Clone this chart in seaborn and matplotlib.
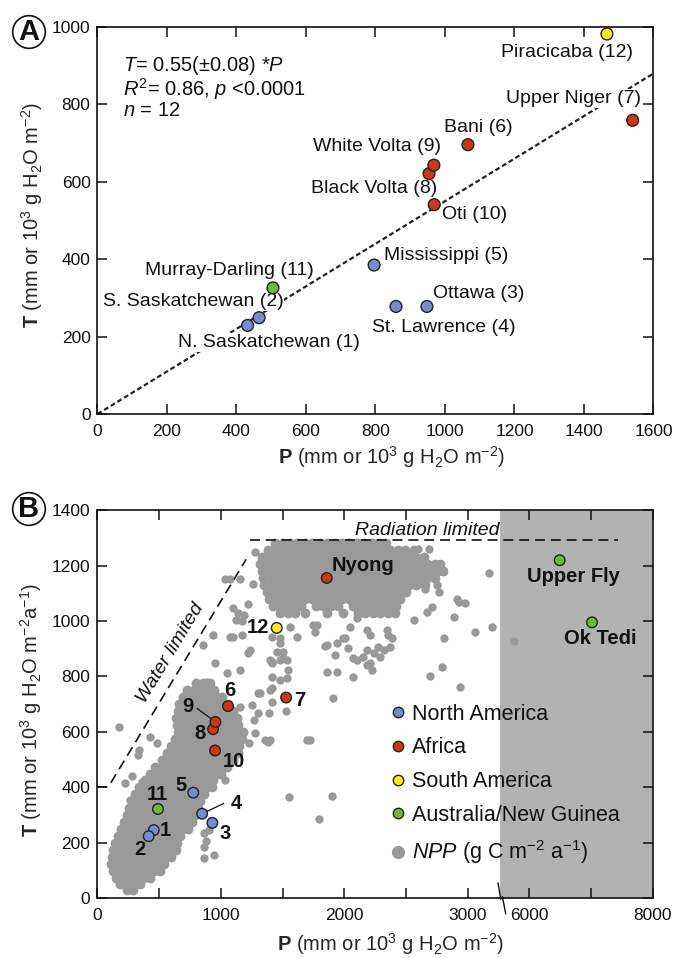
import numpy as np
import pandas as pd
import matplotlib
matplotlib.use("Agg")
import matplotlib.pyplot as plt
from matplotlib.lines import Line2D
import seaborn as sns

# ---------------- panel A : river basins ----------------
rivers_a = ["N. Saskatchewan (1)", "S. Saskatchewan (2)", "Ottawa (3)", "St. Lawrence (4)",
            "Mississippi (5)", "Bani (6)", "Upper Niger (7)", "Black Volta (8)",
            "White Volta (9)", "Oti (10)", "Murray-Darling (11)", "Piracicaba (12)"]
region_a = ["North America"] * 5 + ["Africa"] * 5 + ["Australia/New Guinea", "South America"]
precip_a = [432, 465, 948, 859, 796, 1066, 1540, 954, 968, 969, 505, 1466]
transp_a = [229, 249, 278, 278, 385, 696, 759, 621, 643, 541, 326, 982]
label_P_a = [231, 15, 966, 790, 825, 998, 1565, 978, 988, 991, 137, 1541]
label_T_a = [184, 292, 311, 224, 410, 741, 815, 583, 692, 515, 372, 934]
label_ha_a = ["left", "left", "left", "left", "left", "left", "right", "right",
              "right", "left", "left", "right"]
fit_slope = 0.55
fit_P = np.array([0, 1600])

# ---------------- panel B : rivers + NPP ----------------
rivers_b = ["1", "2", "3", "4", "5", "6", "7", "8", "9", "10", "11", "12",
            "Nyong", "Upper Fly", "Ok Tedi"]
region_b = ["North America"] * 5 + ["Africa"] * 5 + ["Australia/New Guinea", "South America",
            "Africa", "Australia/New Guinea", "Australia/New Guinea"]
precip_b = [457, 416, 931, 848, 777, 1058, 1528, 937, 956, 953, 491, 1452, 1857, 6490, 7014]
transp_b = [246, 224, 272, 305, 381, 693, 724, 610, 636, 533, 322, 975, 1155, 1219, 995]
label_P_b = [551, 348, 1031, 1125, 678, 1074, 1641, 829, 732, 1104, 483, 1296, 2154, 6706, 7148]
label_T_b = [243, 177, 234, 342, 406, 748, 712, 595, 690, 492, 375, 977, 1201, 1161, 937]
leader4_P, leader4_T = [848, 1023], [305, 342]
leader9_P, leader9_T = [807, 956], [685, 636]

water_P, water_T = [0, 90, 1204], [402, 402, 1222]
radiation_P, radiation_T = [1235, 7440], [1291, 1291]

# dense NPP cloud, lower band: one row of P values per T level
npp_low_T = [30, 50, 75, 100, 125, 150, 175, 200, 225, 250, 275, 300, 325, 350, 375, 400,
             425, 450, 475, 500, 525, 550, 575, 600, 625, 650, 675, 700, 725, 750, 775]
npp_low_P = [
    [240, 290],
    [180, 235, 290, 345],
    [150, 205, 260, 315, 370, 425],
    [125, 180, 235, 290, 345, 400, 455, 505],
    [110, 150, 205, 260, 315, 370, 425, 480, 540],
    [120, 175, 230, 285, 340, 395, 450, 505, 560, 600],
    [130, 150, 205, 260, 315, 370, 425, 480, 535, 590, 635],
    [145, 200, 255, 310, 365, 420, 475, 530, 585, 645],
    [165, 225, 280, 335, 390, 445, 500, 555, 610, 670],
    [190, 245, 300, 355, 410, 465, 520, 575, 630, 690, 735],
    [215, 270, 325, 380, 435, 490, 545, 600, 655, 710, 765],
    [240, 295, 350, 405, 460, 515, 570, 625, 680, 735, 790],
    [260, 320, 375, 430, 485, 540, 595, 650, 705, 760, 815],
    [285, 340, 395, 450, 505, 560, 615, 670, 725, 780, 835],
    [305, 365, 420, 475, 530, 585, 640, 695, 750, 805, 860],
    [340, 395, 450, 505, 560, 615, 670, 725, 780, 835, 890, 930],
    [385, 440, 495, 550, 605, 660, 715, 770, 825, 880, 935],
    [425, 475, 530, 585, 640, 695, 750, 805, 860, 915, 970, 1000],
    [470, 525, 580, 635, 690, 745, 800, 855, 910, 965, 1020, 1050],
    [520, 570, 625, 680, 735, 790, 845, 900, 955, 1010, 1065, 1095],
    [565, 615, 670, 725, 780, 835, 890, 945, 1000, 1055, 1110, 1140],
    [600, 655, 710, 765, 820, 875, 930, 985, 1040, 1095, 1150],
    [630, 685, 740, 795, 850, 905, 960, 1015, 1070, 1125, 1175],
    [650, 705, 760, 815, 870, 925, 980, 1035, 1090, 1145, 1180],
    [645, 700, 755, 810, 865, 920, 975, 1030, 1085, 1140],
    [640, 690, 745, 800, 855, 910, 965, 1020, 1075, 1130],
    [650, 705, 760, 815, 870, 925, 980, 1035, 1100],
    [665, 720, 775, 830, 885, 940, 1000, 1060],
    [690, 745, 800, 855, 910, 965, 1010],
    [730, 785, 840, 895, 945],
    [800, 855, 910],
]

# dense NPP cloud, upper (humid) part
npp_high_T = [1280, 1255, 1230, 1205, 1180, 1155, 1130, 1105, 1080, 1055, 1030]
npp_high_P = [
    [1440, 1500, 1560, 1620, 1680, 1740, 1800, 1860, 1920, 1980, 2040, 2100, 2160, 2220, 2280, 2340],
    [1380, 1410, 1470, 1530, 1590, 1650, 1710, 1770, 1830, 1890, 1950, 2010, 2070, 2130, 2190,
     2250, 2310, 2370, 2430, 2490, 2560],
    [1330, 1380, 1440, 1500, 1560, 1620, 1680, 1740, 1800, 1860, 1920, 1980, 2040, 2100, 2160,
     2220, 2280, 2340, 2400, 2460, 2520, 2580, 2640],
    [1320, 1350, 1410, 1470, 1530, 1590, 1650, 1710, 1770, 1830, 1890, 1950, 2010, 2070, 2130,
     2190, 2250, 2310, 2370, 2430, 2490, 2550, 2610, 2670, 2730, 2770],
    [1330, 1380, 1440, 1500, 1560, 1620, 1680, 1740, 1800, 1860, 1920, 1980, 2040, 2100, 2160,
     2220, 2280, 2340, 2400, 2460, 2520, 2580, 2640, 2700, 2760, 2800],
    [1340, 1410, 1470, 1530, 1590, 1650, 1710, 1770, 1830, 1890, 1950, 2010, 2070, 2130, 2190,
     2250, 2310, 2370, 2430, 2490, 2550, 2610, 2670, 2730],
    [1350, 1380, 1440, 1500, 1560, 1620, 1680, 1740, 1800, 1860, 1920, 1980, 2040, 2100, 2160,
     2220, 2280, 2340, 2400, 2460, 2520, 2580, 2650],
    [1370, 1410, 1470, 1530, 1590, 1650, 1710, 1770, 1830, 1890, 1950, 2010, 2070, 2130, 2190,
     2250, 2310, 2370, 2430, 2500],
    [1390, 1440, 1500, 1560, 1620, 1680, 1740, 1800, 1860, 1920, 1980, 2040, 2100, 2160, 2220,
     2280, 2340, 2400, 2450],
    [1420, 1470, 1530, 1590, 1650, 1770, 1830, 1890, 1950, 2070, 2130, 2190, 2250, 2310, 2370, 2420],
    [1480, 1540, 1600, 1680, 1860, 1990, 2110, 2170, 2230, 2290, 2350, 2410],
]

# isolated NPP points (P, T)
npp_scatter = [
    (173, 616), (483, 559), (335, 534), (327, 516), (578, 496), (470, 468), (470, 448),
    (224, 417), (362, 420), (267, 354), (427, 580), (278, 441), (1401, 570), (1226, 559),
    (1036, 426), (1550, 366), (861, 234), (861, 186), (942, 156), (861, 144), (905, 245),
    (880, 205), (1388, 667), (1158, 690), (1266, 643), (1279, 595), (1898, 369), (1797, 286),
    (1528, 675), (1317, 739), (1412, 757), (1479, 787), (1412, 799), (1695, 570), (1722, 570),
    (1358, 570), (1250, 697), (953, 847), (886, 781), (1155, 823), (1857, 817), (1938, 817),
    (2073, 799), (2181, 841), (2235, 883), (1925, 877), (1412, 847), (1479, 859), (1547, 823),
    (939, 949), (1101, 943), (1169, 949), (1236, 895), (1223, 883), (1048, 811), (858, 913),
    (1304, 741), (1398, 751), (1538, 793), (1398, 859), (1533, 861), (1452, 889), (1479, 919),
    (1614, 943), (1776, 985), (1938, 919), (1857, 913), (1911, 724), (2073, 865), (1385, 564),
    (1277, 1247), (1034, 1150), (1075, 1153), (1155, 1153), (1263, 1135), (1223, 1063),
    (1100, 1045), (1140, 1030), (1190, 1020), (1120, 1005), (1170, 1000), (1075, 943),
    (1412, 943), (1479, 937), (1506, 889), (1506, 865), (1412, 853), (1560, 979), (1763, 961),
    (1844, 909), (2006, 937), (2032, 901), (2154, 871), (2370, 907), (2384, 937), (2316, 895),
    (1304, 667), (1412, 709), (3166, 1173), (2653, 1114), (2748, 1129), (2761, 1105),
    (2910, 1081), (2923, 1069), (2977, 1065), (2559, 1005), (2667, 1033), (2708, 1049),
    (2883, 1013), (3058, 961), (3193, 977), (2802, 937), (2343, 967), (2356, 949), (2275, 907),
    (2289, 871), (2208, 847), (2222, 823), (2100, 859), (2181, 897), (1992, 937), (2181, 967),
    (2208, 949), (2046, 979), (2100, 1009), (2141, 1039), (2694, 801), (2789, 833), (2937, 763),
    (2599, 1261), (2680, 1261), (1749, 985), (5744, 928),
]

region_colors = {"North America": "#788ccd", "Africa": "#cd3719",
                 "South America": "#ffeb1e", "Australia/New Guinea": "#78b43c"}
npp_color = "#999999"
edge = "#222222"
ink = "#111111"

# broken P axis of panel B (3260..5528 is cut out, right part is compressed 2x)
P_CUT_LO, P_CUT_HI = 3260, 5528


def fwd(p):
    p = np.asarray(p, dtype=float)
    return np.where(p <= P_CUT_LO, p, P_CUT_LO + (np.maximum(p, P_CUT_HI) - P_CUT_HI) / 2.0)


def inv(q):
    q = np.asarray(q, dtype=float)
    return np.where(q <= P_CUT_LO, q, P_CUT_HI + (q - P_CUT_LO) * 2.0)


sns.set_style("ticks")
plt.rcParams["font.family"] = ["Liberation Sans", "DejaVu Sans"]
plt.rcParams["mathtext.fontset"] = "custom"
plt.rcParams["mathtext.rm"] = "Liberation Sans"
plt.rcParams["mathtext.it"] = "Liberation Sans:italic"
plt.rcParams["mathtext.bf"] = "Liberation Sans:bold"
plt.rcParams["text.color"] = ink
plt.rcParams["axes.edgecolor"] = ink

fig = plt.figure(figsize=(6.76, 9.58), dpi=100)
axA = fig.add_axes([0.1442, 0.5678, 0.8225, 0.404])
axB = fig.add_axes([0.1439, 0.0623, 0.822, 0.4053])

for ax in (axA, axB):
    for s in ax.spines.values():
        s.set_linewidth(1.2)
    ax.tick_params(direction="in", length=7, width=1.1, top=True, right=True,
                   labelsize=12.5, colors=ink)
    ax.tick_params(axis="y", pad=5)
    ax.tick_params(axis="x", pad=7)

# ---------------- panel A ----------------
df_a = pd.DataFrame({"P": precip_a, "T": transp_a, "region": region_a})
sns.lineplot(x=fit_P, y=fit_slope * fit_P, ax=axA, color="#222222", lw=1.6,
             linestyle=(0, (2.2, 1.3)), zorder=2)
sns.scatterplot(data=df_a, x="P", y="T", hue="region", palette=region_colors, s=72,
                edgecolor=edge, linewidth=1.0, legend=False, ax=axA, zorder=5)
for name, px, py, ha in zip(rivers_a, label_P_a, label_T_a, label_ha_a):
    axA.text(px, py, name, ha=ha, va="center", fontsize=14, zorder=3,
             bbox=dict(boxstyle="square,pad=0.05", fc="white", ec="none"))

stats_text = "\n".join([r"$T$= 0.55(±0.08) *$P$",
                        r"$R^2$= 0.86, $p$ <0.0001",
                        r"$n$ = 12"])
axA.text(0.046, 0.930, stats_text, transform=axA.transAxes, fontsize=14.5, va="top",
         ha="left", linespacing=0.95)

axA.set_xlim(0, 1600)
axA.set_ylim(0, 1000)
axA.set_xticks(range(0, 1601, 200))
axA.set_yticks(range(0, 1001, 200))
axA.set_xlabel(r"$\mathbf{P}$ (mm or 10$^3$ g H$_2$O m$^{-2}$)", fontsize=14.5)
axA.set_ylabel(r"$\mathbf{T}$ (mm or 10$^3$ g H$_2$O m$^{-2}$)", fontsize=14.5)
axA.xaxis.set_label_coords(0.528, -0.078)
axA.yaxis.set_label_coords(-0.094, 0.514)

# ---------------- panel B ----------------
axB.set_xscale("function", functions=(fwd, inv))
axB.axvspan(P_CUT_HI, 8000, color="#b2b2b2", lw=0, zorder=0)

dense_P = [p for row in npp_low_P for p in row] + [p for row in npp_high_P for p in row]
dense_T = [t for t, row in zip(npp_low_T, npp_low_P) for _ in row] \
    + [t for t, row in zip(npp_high_T, npp_high_P) for _ in row]
df_dense = pd.DataFrame({"P": dense_P, "T": dense_T})
df_sparse = pd.DataFrame(npp_scatter, columns=["P", "T"])
sns.scatterplot(data=df_dense, x="P", y="T", color=npp_color, s=50, linewidth=0, ax=axB, zorder=2)
sns.scatterplot(data=df_sparse, x="P", y="T", color=npp_color, s=36, linewidth=0, ax=axB, zorder=2)

sns.lineplot(x=water_P, y=water_T, ax=axB, color=ink, lw=1.2, linestyle=(0, (6, 3.5)),
             sort=False, zorder=3)
sns.lineplot(x=radiation_P, y=radiation_T, ax=axB, color=ink, lw=1.2, linestyle=(0, (6, 3.5)),
             zorder=3)
axB.plot(leader4_P, leader4_T, color=ink, lw=0.9, zorder=4)
axB.plot(leader9_P, leader9_T, color=ink, lw=0.9, zorder=4)

df_b = pd.DataFrame({"P": precip_b, "T": transp_b, "region": region_b})
sns.scatterplot(data=df_b, x="P", y="T", hue="region", palette=region_colors, s=58,
                edgecolor=edge, linewidth=1.0, legend=False, ax=axB, zorder=5)
for name, px, py in zip(rivers_b, label_P_b, label_T_b):
    axB.text(px, py, name, ha="center", va="center", fontsize=14.5, fontweight="bold", zorder=6)

axB.text(589, 883, "Water limited", rotation=58.8, rotation_mode="anchor", ha="center",
         va="center", fontsize=14, style="italic")
axB.text(2673, 1327, "Radiation limited", ha="center", va="center", fontsize=14, style="italic")

axB.set_xlim(0, 8000)
axB.set_ylim(0, 1400)
xt = [0, 500, 1000, 1500, 2000, 2500, 3000, 6000, 7000, 8000]
axB.set_xticks(xt, ["0", "", "1000", "", "2000", "", "3000", "6000", "", "8000"])
axB.set_yticks(range(0, 1401, 200))
axB.set_xlabel(r"$\mathbf{P}$ (mm or 10$^3$ g H$_2$O m$^{-2}$)", fontsize=14.5)
axB.set_ylabel(r"$\mathbf{T}$ (mm or 10$^3$ g H$_2$O m$^{-2}$a$^{-1}$)", fontsize=14.5)
axB.xaxis.set_label_coords(0.528, -0.084)
axB.yaxis.set_label_coords(-0.096, 0.485)

# axis break mark
xb = fwd(P_CUT_LO) / fwd(8000)
axB.plot([xb - 0.004, xb + 0.001, xb + 0.004, xb + 0.010], [0.04, -0.002, 0.004, -0.04],
         transform=axB.transAxes, color=ink, lw=1.0, clip_on=False, zorder=7)

handles = [Line2D([], [], marker="o", ls="none", markersize=7.5, markerfacecolor=c,
                  markeredgecolor=edge, markeredgewidth=1.0) for c in region_colors.values()]
handles.append(Line2D([], [], marker="o", ls="none", markersize=9.5, markerfacecolor=npp_color,
                      markeredgecolor="none"))
labels = list(region_colors.keys()) + [r"$NPP$ (g C m$^{-2}$ a$^{-1}$)"]
axB.legend(handles, labels, loc="upper left", bbox_to_anchor=(0.529, 0.501), frameon=False,
           fontsize=15.5, handlelength=0.6, handletextpad=0.35, labelspacing=0.59,
           borderpad=0, borderaxespad=0)

# panel letters
for y, letter in ((1 - 32 / 958, "A"), (1 - 509 / 958, "B")):
    fig.text(29 / 676, y, letter, ha="center", va="center", fontsize=21, fontweight="bold",
             bbox=dict(boxstyle="circle,pad=0.08", fc="white", ec=ink, lw=1.2))

fig.savefig("out.png", dpi=100)
